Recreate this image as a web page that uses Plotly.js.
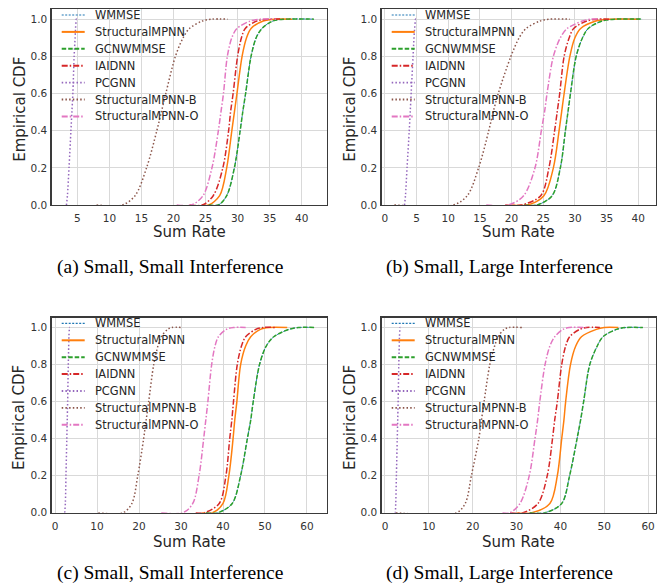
<!DOCTYPE html>
<html><head><meta charset="utf-8">
<script src="https://cdn.plot.ly/plotly-3.0.1.min.js"></script>
<style>html,body{margin:0;padding:0;background:#fff}#chart{width:660px;height:586px}</style>
</head><body><div id="chart"></div>
<script>
// ---------------- DATA ----------------
const seriesNames = ['WMMSE', 'StructuralMPNN', 'GCNWMMSE', 'IAIDNN', 'PCGNN', 'StructuralMPNN-B', 'StructuralMPNN-O'];
// empirical CDF levels shared by every curve; each series lists the sum rate reached at each level
const cdfLevels = [0, 0, 0.05, 0.2, 0.4, 0.5, 0.6, 0.8, 0.9, 0.95, 0.99, 1, 1];

// (a) Small, Small Interference
const rateA_WMMSE = [25.5, 27.0, 28.3, 29.5, 30.4, 30.8, 31.25, 32.1, 32.9, 33.8, 35.5, 37.5, 41.9];
const rateA_StructuralMPNN = [24.5, 25.5, 27.2, 28.3, 29.1, 29.5, 29.9, 30.7, 31.4, 32.1, 34.0, 36.0, 38.5];
const rateA_GCNWMMSE = [25.5, 27.0, 28.3, 29.5, 30.4, 30.8, 31.25, 32.1, 32.9, 33.8, 35.5, 37.5, 41.9];
const rateA_IAIDNN = [22.5, 24.5, 26.2, 27.7, 28.6, 28.9, 29.3, 30.0, 30.6, 31.2, 33.0, 35.0, 37.0];
const rateA_PCGNN = [3.3, 3.3, 3.45, 3.7, 4.0, 4.15, 4.3, 4.5, 4.65, 4.72, 4.8, 4.85, 4.9];
const rateA_StructuralMPNN_B = [8.0, 12.0, 14.0, 15.8, 17.4, 18.1, 18.8, 20.3, 21.5, 22.5, 24.5, 26.0, 28.5];
const rateA_StructuralMPNN_O = [20.5, 22.8, 24.6, 26.0, 27.0, 27.4, 27.8, 28.4, 29.1, 29.9, 32.0, 33.5, 36.0];

// (b) Small, Large Interference
const rateB_WMMSE = [22.0, 24.0, 26.4, 27.7, 28.5, 28.9, 29.3, 30.2, 31.2, 32.1, 34.3, 36.5, 40.6];
const rateB_StructuralMPNN = [20.0, 22.5, 25.1, 26.6, 27.5, 27.9, 28.3, 29.2, 30.0, 30.9, 33.3, 35.5, 40.1];
const rateB_GCNWMMSE = [22.0, 24.0, 26.4, 27.7, 28.5, 28.9, 29.3, 30.2, 31.2, 32.1, 34.3, 36.5, 40.6];
const rateB_IAIDNN = [19.0, 21.5, 24.6, 25.9, 26.8, 27.2, 27.6, 28.3, 29.1, 29.8, 31.9, 33.5, 35.4];
const rateB_PCGNN = [3.1, 3.1, 3.25, 3.5, 3.85, 4.0, 4.15, 4.45, 4.6, 4.7, 4.8, 4.85, 4.9];
const rateB_StructuralMPNN_B = [1.5, 10.8, 13.0, 14.8, 16.4, 17.1, 17.9, 19.9, 21.2, 22.3, 24.5, 26.0, 29.2];
const rateB_StructuralMPNN_O = [16.0, 19.5, 21.9, 23.7, 24.7, 25.2, 25.6, 26.6, 27.7, 28.8, 31.2, 32.5, 34.0];

// (c) Small, Small Interference
const rateC_WMMSE = [36.0, 38.8, 42.2, 44.2, 45.8, 46.6, 47.2, 48.7, 50.3, 52.1, 55.7, 58.0, 61.7];
const rateC_StructuralMPNN = [35.0, 37.5, 40.0, 41.4, 42.4, 42.8, 43.3, 44.2, 45.4, 46.6, 48.9, 51.0, 55.3];
const rateC_GCNWMMSE = [36.0, 38.8, 42.2, 44.2, 45.8, 46.6, 47.2, 48.7, 50.3, 52.1, 55.7, 58.0, 61.7];
const rateC_IAIDNN = [33.5, 35.5, 39.1, 40.7, 41.6, 42.1, 42.5, 43.4, 44.4, 45.4, 47.8, 49.5, 52.5];
const rateC_PCGNN = [2.3, 2.3, 2.45, 2.6, 2.8, 2.9, 3.0, 3.15, 3.25, 3.3, 3.4, 3.45, 3.5];
const rateC_StructuralMPNN_B = [10.3, 16.2, 18.3, 19.7, 21.1, 21.7, 22.3, 23.5, 24.5, 25.3, 26.8, 27.8, 30.3];
const rateC_StructuralMPNN_O = [25.3, 30.5, 32.8, 34.3, 35.4, 35.9, 36.4, 37.3, 38.1, 38.9, 40.8, 42.5, 45.4];

// (d) Small, Large Interference
const rateD_WMMSE = [33.0, 36.5, 40.3, 42.1, 43.8, 44.6, 45.3, 46.7, 48.4, 49.7, 52.8, 55.0, 58.8];
const rateD_StructuralMPNN = [30.0, 33.5, 37.6, 39.3, 40.3, 40.8, 41.2, 42.3, 43.5, 44.8, 48.2, 50.0, 53.2];
const rateD_GCNWMMSE = [33.0, 36.5, 40.3, 42.1, 43.8, 44.6, 45.3, 46.7, 48.4, 49.7, 52.8, 55.0, 58.8];
const rateD_IAIDNN = [28.5, 31.5, 34.9, 37.0, 38.2, 38.7, 39.3, 40.3, 41.2, 42.1, 44.4, 46.0, 49.0];
const rateD_PCGNN = [2.2, 2.3, 2.45, 2.6, 2.8, 2.9, 3.0, 3.15, 3.25, 3.3, 3.4, 3.45, 3.5];
const rateD_StructuralMPNN_B = [2.5, 16.3, 18.3, 19.7, 21.4, 22.0, 22.6, 23.9, 25.0, 25.8, 27.2, 28.3, 31.2];
const rateD_StructuralMPNN_O = [26.8, 28.5, 30.8, 32.9, 34.2, 34.8, 35.3, 36.5, 37.6, 38.7, 40.6, 42.0, 45.9];

const captions = ['(a) Small, Small Interference', '(b) Small, Large Interference',
                  '(c) Small, Small Interference', '(d) Small, Large Interference'];
const xTicksA = [5, 10, 15, 20, 25, 30, 35, 40];
const xTicksB = [0, 5, 10, 15, 20, 25, 30, 35, 40];
const xTicksC = [0, 10, 20, 30, 40, 50, 60];
const xTicksD = [0, 10, 20, 30, 40, 50, 60];
const yTicks = [0, 0.2, 0.4, 0.6, 0.8, 1.0];
const yTickText = ['0.0', '0.2', '0.4', '0.6', '0.8', '1.0'];
const xTitle = 'Sum Rate';
const yTitle = 'Empirical CDF';

// ---------------- STYLE / LAYOUT ----------------
const panels = [
  {rates: [rateA_WMMSE, rateA_StructuralMPNN, rateA_GCNWMMSE, rateA_IAIDNN, rateA_PCGNN, rateA_StructuralMPNN_B, rateA_StructuralMPNN_O], ticks: xTicksA, range: [1.0, 43.9]},
  {rates: [rateB_WMMSE, rateB_StructuralMPNN, rateB_GCNWMMSE, rateB_IAIDNN, rateB_PCGNN, rateB_StructuralMPNN_B, rateB_StructuralMPNN_O], ticks: xTicksB, range: [-0.5, 42.8]},
  {rates: [rateC_WMMSE, rateC_StructuralMPNN, rateC_GCNWMMSE, rateC_IAIDNN, rateC_PCGNN, rateC_StructuralMPNN_B, rateC_StructuralMPNN_O], ticks: xTicksC, range: [-0.8, 64.7]},
  {rates: [rateD_WMMSE, rateD_StructuralMPNN, rateD_GCNWMMSE, rateD_IAIDNN, rateD_PCGNN, rateD_StructuralMPNN_B, rateD_StructuralMPNN_O], ticks: xTicksD, range: [-0.75, 61.8]}
];
const styles = [
  {color: '#1f77b4', dash: '2px,1.5px', width: 1.0, lw: 1.1},
  {color: '#ff7f0e', dash: 'solid', width: 1.5, lw: 2.0},
  {color: '#2ca02c', dash: '4.5px,2px', width: 1.5, lw: 2.0},
  {color: '#d62728', dash: '6px,2px,1.5px,2px', width: 1.5, lw: 2.0},
  {color: '#9467bd', dash: '1.5px,2.2px', width: 1.5, lw: 1.8},
  {color: '#8c564b', dash: '1.5px,2.2px', width: 1.5, lw: 1.8},
  {color: '#e377c2', dash: '6px,2px,1.5px,2px', width: 1.5, lw: 2.0}
];
const W = 660, H = 586;
const boxes = [
  {l: 51.7, r: 326.7, t: 9.3, b: 205, xt: 26.5},
  {l: 381.7, r: 656, t: 9.3, b: 205, xt: 26.5},
  {l: 51.7, r: 326.7, t: 317.7, b: 512.7, xt: 29},
  {l: 381.7, r: 656, t: 317.7, b: 512.7, xt: 29}
];
const captionPos = [{x: 169.5, y: 267}, {x: 499, y: 267}, {x: 169.5, y: 573}, {x: 499, y: 573}];
const px = v => v / W, py = v => 1 - v / H;

const traces = [];
const layout = {
  width: W, height: H, margin: {l: 0, r: 0, t: 0, b: 0},
  paper_bgcolor: '#ffffff', plot_bgcolor: '#ffffff',
  showlegend: false, shapes: [], annotations: [],
  font: {family: 'DejaVu Sans', color: '#262626'}
};

panels.forEach((p, i) => {
  const sfx = i === 0 ? '' : String(i + 1);
  const bx = boxes[i];
  const common = {
    showline: true, mirror: true, linecolor: '#3a3a3a', linewidth: 1.3,
    showgrid: true, gridcolor: '#d9d9d9', gridwidth: 1, zeroline: false,
    ticks: 'outside', tickcolor: 'rgba(0,0,0,0)',
    tickfont: {family: 'DejaVu Sans', size: 10.5, color: '#333333'}, fixedrange: true
  };
  layout['xaxis' + sfx] = Object.assign({}, common, {
    domain: [px(bx.l), px(bx.r)], anchor: 'y' + sfx, range: p.range,
    tickmode: 'array', tickvals: p.ticks, ticklen: 3
  });
  layout['yaxis' + sfx] = Object.assign({}, common, {
    domain: [py(bx.b), py(bx.t)], anchor: 'x' + sfx, range: [0, 1.053],
    tickmode: 'array', tickvals: yTicks, ticktext: yTickText, ticklen: 1
  });
  p.rates.forEach((r, s) => {
    const st = styles[s];
    traces.push({
      type: 'scatter', mode: 'lines', name: seriesNames[s], x: r, y: cdfLevels,
      xaxis: 'x' + sfx, yaxis: 'y' + sfx, hoverinfo: 'skip', showlegend: false,
      line: {color: st.color, width: st.width, dash: st.dash, shape: 'spline', smoothing: 0.9}
    });
  });
  // legend (drawn manually, inside the upper-left of each panel)
  seriesNames.forEach((name, s) => {
    const st = styles[s];
    const yc = bx.t + 5.7 + 16.9 * s;
    layout.shapes.push({
      type: 'line', xref: 'paper', yref: 'paper',
      x0: px(bx.l + 10), x1: px(bx.l + 33), y0: py(yc), y1: py(yc),
      line: {color: st.color, width: st.lw, dash: st.dash}
    });
    layout.annotations.push({
      xref: 'paper', yref: 'paper', x: px(bx.l + 41), y: py(yc), xanchor: 'left', yanchor: 'middle',
      text: name, showarrow: false, font: {family: 'DejaVu Sans', size: 11.4, color: '#262626'}
    });
  });
  // axis titles
  layout.annotations.push({
    xref: 'paper', yref: 'paper', x: px((bx.l + bx.r) / 2), y: py(bx.b + bx.xt),
    xanchor: 'center', yanchor: 'middle', text: xTitle, showarrow: false,
    font: {family: 'DejaVu Sans', size: 15, color: '#262626'}
  });
  layout.annotations.push({
    xref: 'paper', yref: 'paper', x: px(bx.l - 32), y: py((bx.t + bx.b) / 2 + 2),
    xanchor: 'center', yanchor: 'middle', text: yTitle, textangle: -90, showarrow: false,
    font: {family: 'DejaVu Sans', size: 15, color: '#262626'}
  });
  // caption
  layout.annotations.push({
    xref: 'paper', yref: 'paper', x: px(captionPos[i].x), y: py(captionPos[i].y),
    xanchor: 'center', yanchor: 'middle', text: captions[i], showarrow: false,
    font: {family: 'Liberation Serif', size: 19.5, color: '#000000'}
  });
});

Plotly.newPlot('chart', traces, layout, {displayModeBar: false, staticPlot: true});
</script>
</body></html>
